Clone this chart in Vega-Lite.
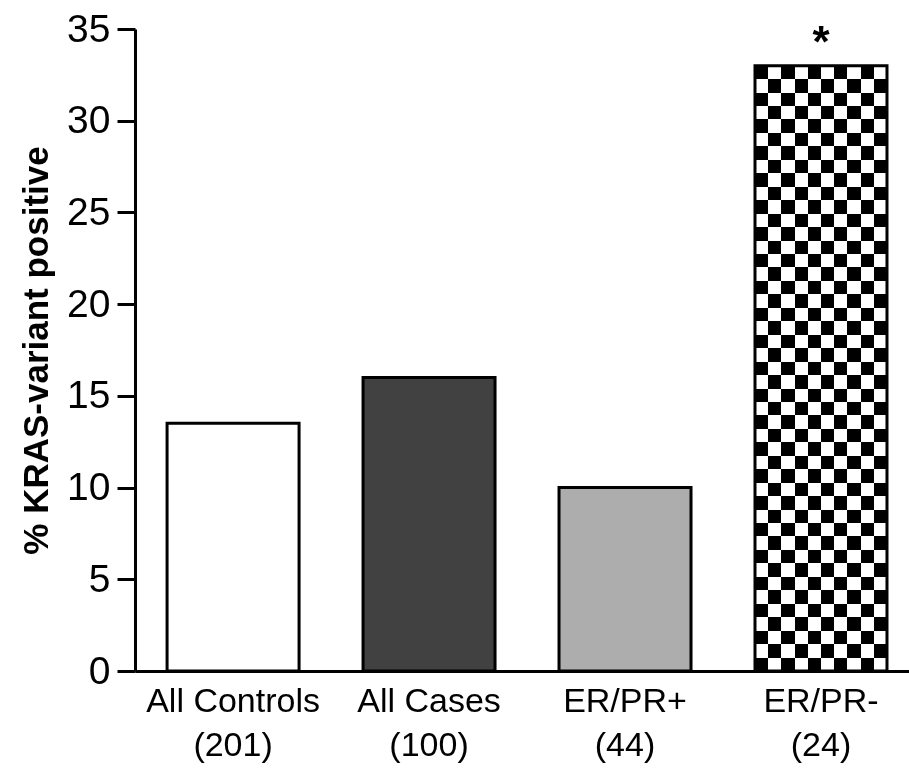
{
  "$schema": "https://vega.github.io/schema/vega-lite/v6.json",
  "width": 774,
  "height": 642,
  "autosize": {"type": "none"},
  "padding": {"left": 135, "top": 29, "right": 0, "bottom": 97},
  "background": "white",
  "config": {
    "view": {"stroke": null},
    "font": "Liberation Sans",
    "axis": {"grid": false, "domainColor": "black", "tickColor": "black", "labelColor": "black", "titleColor": "black", "labelFont": "Liberation Sans", "titleFont": "Liberation Sans"}
  },
  "data": {
    "values": [
      {"group": "All Controls (201)", "pct": 13.5, "sig": ""},
      {"group": "All Cases (100)", "pct": 16.0, "sig": ""},
      {"group": "ER/PR+ (44)", "pct": 10.0, "sig": ""},
      {"group": "ER/PR- (24)", "pct": 33.0, "sig": "*"}
    ]
  },
  "encoding": {
    "x": {
      "field": "group", "type": "nominal", "sort": null,
      "scale": {"paddingInner": 0.3265, "paddingOuter": 0.138, "align": 0.593},
      "axis": {
        "title": null, "labelAngle": 0, "ticks": false, "domainWidth": 3,
        "labelFontSize": 34, "labelPadding": 13, "labelLineHeight": 44, "labelBaseline": "top",
        "labelExpr": "[substring(datum.value, 0, indexof(datum.value, ' (')), substring(datum.value, indexof(datum.value, ' (') + 1)]"
      }
    },
    "y": {
      "field": "pct", "type": "quantitative",
      "scale": {"domain": [0, 35], "nice": false, "zero": true},
      "axis": {
        "title": "% KRAS-variant positive", "titleFontSize": 35, "titleFontWeight": "bold", "titlePadding": 12,
        "values": [0, 5, 10, 15, 20, 25, 30, 35],
        "labelFontSize": 39, "labelPadding": 7, "tickSize": 18, "tickWidth": 3, "domainWidth": 3
      }
    }
  },
  "layer": [
    {
      "mark": {"type": "bar", "strokeWidth": 0},
      "encoding": {
        "fill": {
          "field": "group", "type": "nominal", "legend": null,
          "scale": {"domain": ["All Controls (201)", "All Cases (100)", "ER/PR+ (44)", "ER/PR- (24)"], "range": ["#ffffff", "#414141", "#adadad", "#ffffff"]}
        }
      }
    },
    {
      "transform": [{"filter": "datum.group === 'ER/PR- (24)'"}],
      "mark": {
        "type": "bar", "strokeWidth": 0,
        "fill": {"gradient": "linear", "x1": 0, "y1": 0, "x2": 1, "y2": 0, "stops": [
          {"offset": 0, "color": "#000000"}, {"offset": 0.1, "color": "#000000"},
          {"offset": 0.1, "color": "#ffffff"}, {"offset": 0.2, "color": "#ffffff"},
          {"offset": 0.2, "color": "#000000"}, {"offset": 0.3, "color": "#000000"},
          {"offset": 0.3, "color": "#ffffff"}, {"offset": 0.4, "color": "#ffffff"},
          {"offset": 0.4, "color": "#000000"}, {"offset": 0.5, "color": "#000000"},
          {"offset": 0.5, "color": "#ffffff"}, {"offset": 0.6, "color": "#ffffff"},
          {"offset": 0.6, "color": "#000000"}, {"offset": 0.7, "color": "#000000"},
          {"offset": 0.7, "color": "#ffffff"}, {"offset": 0.8, "color": "#ffffff"},
          {"offset": 0.8, "color": "#000000"}, {"offset": 0.9, "color": "#000000"},
          {"offset": 0.9, "color": "#ffffff"}, {"offset": 1, "color": "#ffffff"}
        ]}
      }
    },
    {
      "transform": [{"filter": "datum.group === 'ER/PR- (24)'"}],
      "mark": {
        "type": "bar", "strokeWidth": 0, "blend": "difference",
        "fill": {"gradient": "linear", "x1": 0, "y1": 0, "x2": 0, "y2": 1, "stops": [
          {"offset": 0.0, "color": "#000000"}, {"offset": 0.02222, "color": "#000000"},
          {"offset": 0.02222, "color": "#ffffff"}, {"offset": 0.04444, "color": "#ffffff"},
          {"offset": 0.04444, "color": "#000000"}, {"offset": 0.06667, "color": "#000000"},
          {"offset": 0.06667, "color": "#ffffff"}, {"offset": 0.08889, "color": "#ffffff"},
          {"offset": 0.08889, "color": "#000000"}, {"offset": 0.11111, "color": "#000000"},
          {"offset": 0.11111, "color": "#ffffff"}, {"offset": 0.13333, "color": "#ffffff"},
          {"offset": 0.13333, "color": "#000000"}, {"offset": 0.15556, "color": "#000000"},
          {"offset": 0.15556, "color": "#ffffff"}, {"offset": 0.17778, "color": "#ffffff"},
          {"offset": 0.17778, "color": "#000000"}, {"offset": 0.2, "color": "#000000"},
          {"offset": 0.2, "color": "#ffffff"}, {"offset": 0.22222, "color": "#ffffff"},
          {"offset": 0.22222, "color": "#000000"}, {"offset": 0.24444, "color": "#000000"},
          {"offset": 0.24444, "color": "#ffffff"}, {"offset": 0.26667, "color": "#ffffff"},
          {"offset": 0.26667, "color": "#000000"}, {"offset": 0.28889, "color": "#000000"},
          {"offset": 0.28889, "color": "#ffffff"}, {"offset": 0.31111, "color": "#ffffff"},
          {"offset": 0.31111, "color": "#000000"}, {"offset": 0.33333, "color": "#000000"},
          {"offset": 0.33333, "color": "#ffffff"}, {"offset": 0.35556, "color": "#ffffff"},
          {"offset": 0.35556, "color": "#000000"}, {"offset": 0.37778, "color": "#000000"},
          {"offset": 0.37778, "color": "#ffffff"}, {"offset": 0.4, "color": "#ffffff"},
          {"offset": 0.4, "color": "#000000"}, {"offset": 0.42222, "color": "#000000"},
          {"offset": 0.42222, "color": "#ffffff"}, {"offset": 0.44444, "color": "#ffffff"},
          {"offset": 0.44444, "color": "#000000"}, {"offset": 0.46667, "color": "#000000"},
          {"offset": 0.46667, "color": "#ffffff"}, {"offset": 0.48889, "color": "#ffffff"},
          {"offset": 0.48889, "color": "#000000"}, {"offset": 0.51111, "color": "#000000"},
          {"offset": 0.51111, "color": "#ffffff"}, {"offset": 0.53333, "color": "#ffffff"},
          {"offset": 0.53333, "color": "#000000"}, {"offset": 0.55556, "color": "#000000"},
          {"offset": 0.55556, "color": "#ffffff"}, {"offset": 0.57778, "color": "#ffffff"},
          {"offset": 0.57778, "color": "#000000"}, {"offset": 0.6, "color": "#000000"},
          {"offset": 0.6, "color": "#ffffff"}, {"offset": 0.62222, "color": "#ffffff"},
          {"offset": 0.62222, "color": "#000000"}, {"offset": 0.64444, "color": "#000000"},
          {"offset": 0.64444, "color": "#ffffff"}, {"offset": 0.66667, "color": "#ffffff"},
          {"offset": 0.66667, "color": "#000000"}, {"offset": 0.68889, "color": "#000000"},
          {"offset": 0.68889, "color": "#ffffff"}, {"offset": 0.71111, "color": "#ffffff"},
          {"offset": 0.71111, "color": "#000000"}, {"offset": 0.73333, "color": "#000000"},
          {"offset": 0.73333, "color": "#ffffff"}, {"offset": 0.75556, "color": "#ffffff"},
          {"offset": 0.75556, "color": "#000000"}, {"offset": 0.77778, "color": "#000000"},
          {"offset": 0.77778, "color": "#ffffff"}, {"offset": 0.8, "color": "#ffffff"},
          {"offset": 0.8, "color": "#000000"}, {"offset": 0.82222, "color": "#000000"},
          {"offset": 0.82222, "color": "#ffffff"}, {"offset": 0.84444, "color": "#ffffff"},
          {"offset": 0.84444, "color": "#000000"}, {"offset": 0.86667, "color": "#000000"},
          {"offset": 0.86667, "color": "#ffffff"}, {"offset": 0.88889, "color": "#ffffff"},
          {"offset": 0.88889, "color": "#000000"}, {"offset": 0.91111, "color": "#000000"},
          {"offset": 0.91111, "color": "#ffffff"}, {"offset": 0.93333, "color": "#ffffff"},
          {"offset": 0.93333, "color": "#000000"}, {"offset": 0.95556, "color": "#000000"},
          {"offset": 0.95556, "color": "#ffffff"}, {"offset": 0.97778, "color": "#ffffff"},
          {"offset": 0.97778, "color": "#000000"}, {"offset": 1, "color": "#000000"}
        ]}
      }
    },
    {
      "mark": {"type": "bar", "fill": "transparent", "stroke": "black", "strokeWidth": 3}
    },
    {
      "mark": {"type": "text", "fontSize": 44, "fontWeight": "bold", "baseline": "alphabetic", "align": "center", "dy": -9, "font": "Liberation Sans", "color": "black"},
      "encoding": {"text": {"field": "sig"}}
    }
  ]
}
